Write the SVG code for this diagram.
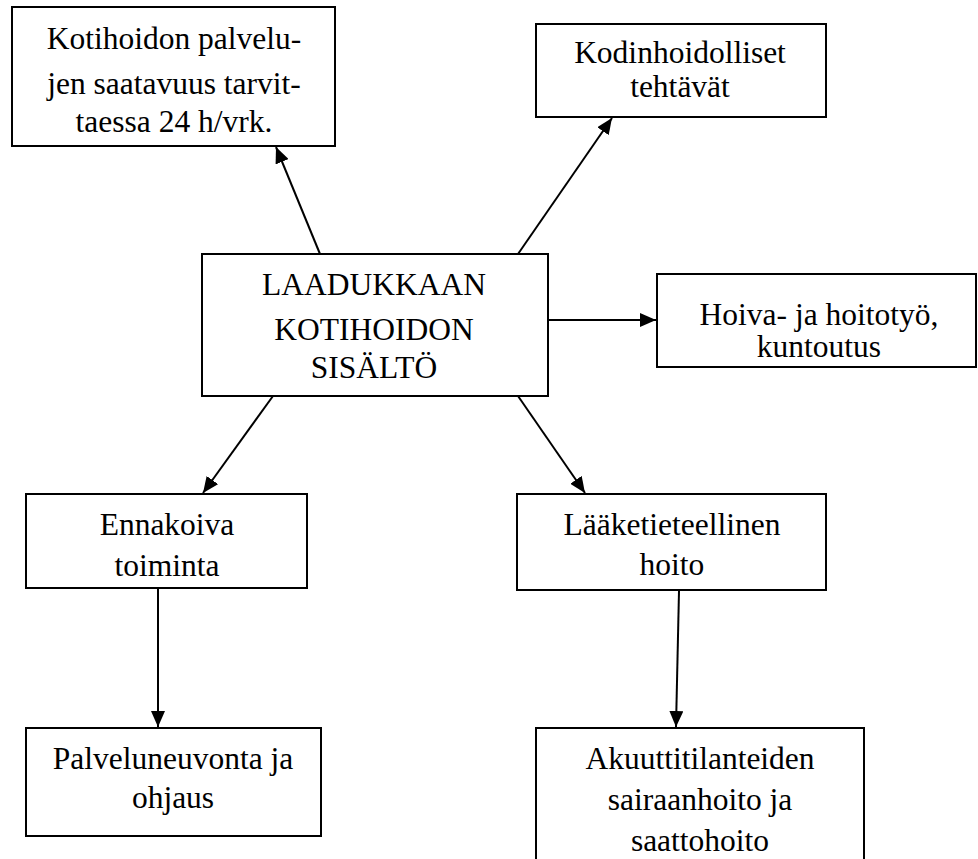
<svg xmlns="http://www.w3.org/2000/svg" width="978" height="859" viewBox="0 0 978 859">
<style>
  .box { fill: #fff; stroke: #000; stroke-width: 2; }
  .c { stroke: #000; stroke-width: 2; fill: none; marker-end: url(#ah); }
</style>
<defs>
  <marker id="ah" markerUnits="userSpaceOnUse" markerWidth="16" markerHeight="14" viewBox="0 0 16 14" refX="16" refY="7" orient="auto">
    <path d="M0,0 L16,7 L0,14 Z" fill="#000"/>
  </marker>
</defs>
<rect width="978" height="859" fill="#fff"/>
<g id="connectors">
  <line class="c" x1="320" y1="254" x2="276" y2="147"/>
  <line class="c" x1="518" y1="254" x2="612" y2="118"/>
  <line class="c" x1="548" y1="320" x2="656" y2="320"/>
  <line class="c" x1="273" y1="396" x2="203" y2="493"/>
  <line class="c" x1="518" y1="396" x2="585" y2="493"/>
  <line class="c" x1="158" y1="589" x2="158" y2="727"/>
  <line class="c" x1="679" y1="591" x2="676" y2="727"/>
</g>
<g font-family="'Liberation Serif', 'Times New Roman', 'DejaVu Serif', serif" font-size="31.5" fill="#000" text-anchor="middle">
<g id="n-kotihoidon-palvelujen">
  <rect class="box" x="12" y="7" width="323" height="139"/>
  <text x="174" y="49">Kotihoidon palvelu-</text>
  <text x="174" y="94">jen saatavuus tarvit-</text>
  <text x="174" y="132">taessa 24 h/vrk.</text>
</g>
<g id="n-kodinhoidolliset">
  <rect class="box" x="536" y="24" width="290" height="93"/>
  <text x="680" y="63">Kodinhoidolliset</text>
  <text x="680" y="97">tehtävät</text>
</g>
<g id="n-center">
  <rect class="box" x="202" y="254" width="346" height="142"/>
  <text x="374" y="295">LAADUKKAAN</text>
  <text x="374" y="340">KOTIHOIDON</text>
  <text x="374" y="378">SISÄLTÖ</text>
</g>
<g id="n-hoiva">
  <rect class="box" x="657" y="274" width="319" height="93"/>
  <text x="819" y="325">Hoiva- ja hoitotyö,</text>
  <text x="819" y="357">kuntoutus</text>
</g>
<g id="n-ennakoiva">
  <rect class="box" x="26" y="494" width="281" height="94"/>
  <text x="167" y="535">Ennakoiva</text>
  <text x="167" y="576">toiminta</text>
</g>
<g id="n-laaketieteellinen">
  <rect class="box" x="517" y="494" width="309" height="96"/>
  <text x="672" y="535">Lääketieteellinen</text>
  <text x="672" y="575">hoito</text>
</g>
<g id="n-palveluneuvonta">
  <rect class="box" x="26" y="728" width="295" height="108"/>
  <text x="173" y="769">Palveluneuvonta ja</text>
  <text x="173" y="808">ohjaus</text>
</g>
<g id="n-akuutti">
  <rect class="box" x="536" y="728" width="328" height="160"/>
  <text x="700" y="769">Akuuttitilanteiden</text>
  <text x="700" y="810">sairaanhoito ja</text>
  <text x="700" y="851">saattohoito</text>
</g>
</g>
</svg>
